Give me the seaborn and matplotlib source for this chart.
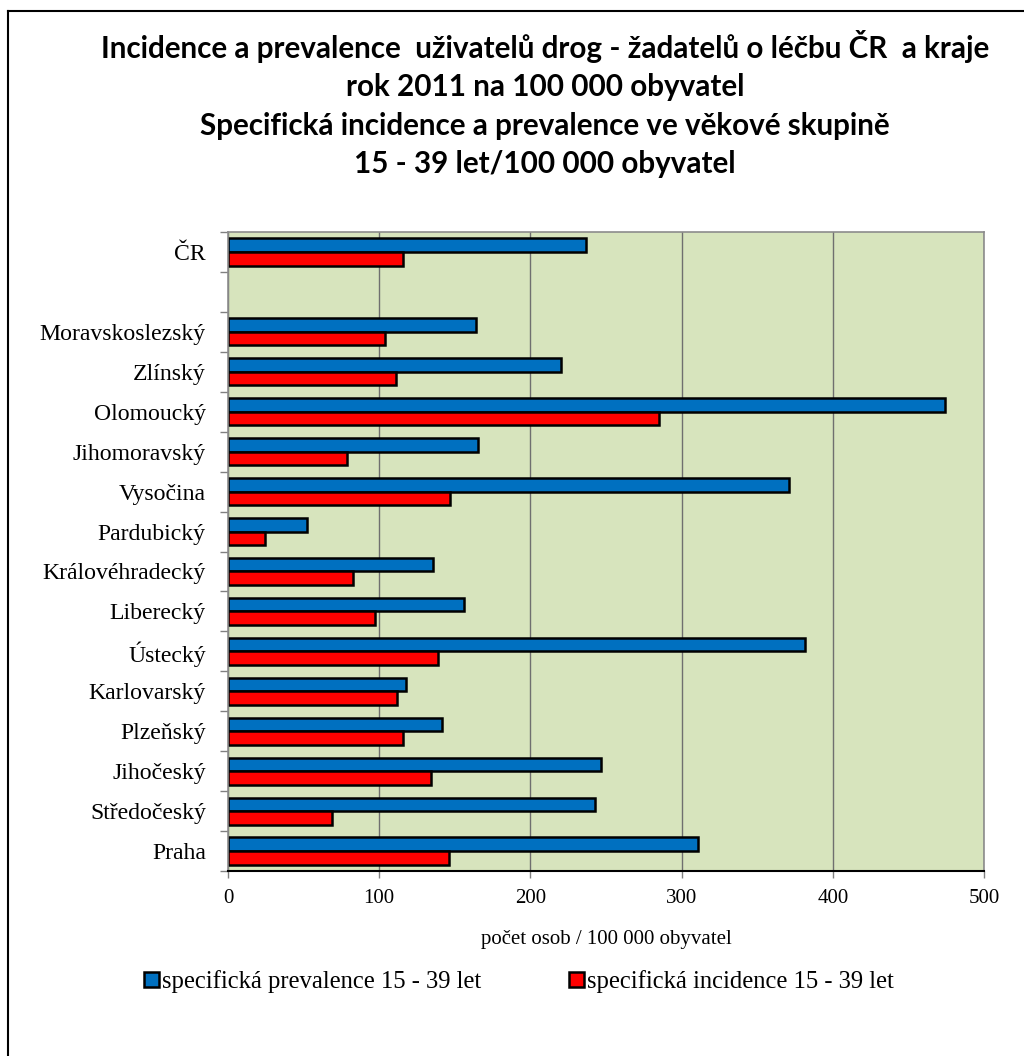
import numpy as np
import pandas as pd
import matplotlib
matplotlib.use("Agg")
import matplotlib.pyplot as plt
import matplotlib.patches as mpatches
import matplotlib.lines as mlines
import seaborn as sns

# ---- data (top-to-bottom order) ----
regions = ["ČR", " ", "Moravskoslezský", "Zlínský", "Olomoucký", "Jihomoravský",
           "Vysočina", "Pardubický", "Královéhradecký", "Liberecký", "Ústecký",
           "Karlovarský", "Plzeňský", "Jihočeský", "Středočeský", "Praha"]
prevalence = [236.5, np.nan, 164, 220.5, 474.5, 165.5, 371, 52, 135.5, 156,
              381.5, 117.5, 141.5, 246.5, 242.5, 311]
incidence = [116, np.nan, 104, 111, 285, 79, 147, 24.5, 82.5, 97.5,
             139, 112, 115.5, 134, 68.5, 146]
series_names = ["specifická prevalence 15 - 39 let", "specifická incidence 15 - 39 let"]
x_ticks = [0, 100, 200, 300, 400, 500]

title_text = ("Incidence a prevalence  uživatelů drog - žadatelů o léčbu ČR  a kraje\n"
              "rok 2011 na 100 000 obyvatel\n"
              "Specifická incidence a prevalence ve věkové skupině\n"
              "15 - 39 let/100 000 obyvatel")
xlabel_text = "počet osob / 100 000 obyvatel"

df = pd.DataFrame({
    "region": regions * 2,
    "series": [series_names[0]] * len(regions) + [series_names[1]] * len(regions),
    "value": prevalence + incidence,
})

BLUE = "#0070C0"
RED = "#FF0000"
BG = "#D7E4BD"
serif = "Liberation Serif"

W, H = 1024, 1056
fig = plt.figure(figsize=(W / 100, H / 100), dpi=100)
fig.patch.set_facecolor("white")

ax = fig.add_axes([228 / W, 1 - 871 / H, 756 / W, 639 / H])
ax.set_facecolor(BG)

sns.barplot(data=df, y="region", x="value", hue="series", order=regions,
            hue_order=series_names, palette=[BLUE, RED], width=0.68,
            edgecolor="black", linewidth=1.8, ax=ax, legend=False,
            saturation=1, errorbar=None)

ax.set_xlim(0, 500)
ax.set_ylim(len(regions) - 0.5, -0.5)
ax.set_xticks(x_ticks)
ax.set_xticklabels([str(t) for t in x_ticks], fontfamily=serif, fontsize=15)
ax.set_yticks(range(len(regions)))
ax.set_yticklabels(regions, fontfamily=serif, fontsize=17.1)
ax.tick_params(axis="y", which="major", length=0, pad=16)
ax.set_yticks(np.arange(-0.5, len(regions), 1.0), minor=True)
ax.tick_params(axis="y", which="minor", length=6, color="#808080", width=1)
ax.tick_params(axis="x", which="major", length=5, color="#808080", width=1, pad=8)

ax.set_axisbelow(True)
ax.xaxis.grid(True, color="#6f6f6f", linewidth=1)
ax.yaxis.grid(False)

ax.set_ylabel("")
ax.set_xlabel(xlabel_text, fontfamily=serif, fontsize=15, labelpad=16)

for side in ["top", "right", "left"]:
    ax.spines[side].set_color("#8c8c8c")
    ax.spines[side].set_linewidth(1.2)
ax.spines["bottom"].set_color("black")
ax.spines["bottom"].set_linewidth(1.5)

# legend
handles = [mpatches.Patch(facecolor=BLUE, edgecolor="black", linewidth=1.8),
           mpatches.Patch(facecolor=RED, edgecolor="black", linewidth=1.8)]
fig.legend(handles, series_names, loc="center", bbox_to_anchor=(519 / W, 1 - 982 / H),
           ncol=2, frameon=False, prop={"family": serif, "size": 17.7},
           handlelength=0.6, handleheight=0.55, handletextpad=0.12,
           columnspacing=3.6)

# title
fig.text(545 / W, 1 - 104 / H, title_text, ha="center", va="center",
         fontsize=21.3, fontweight="bold", fontfamily="Lato", linespacing=1.44)

# outer frame (left & top)
fig.add_artist(mlines.Line2D([8 / W, 8 / W], [0, 1 - 11 / H], transform=fig.transFigure,
                             color="black", linewidth=1.5))
fig.add_artist(mlines.Line2D([8 / W, 1], [1 - 11 / H, 1 - 11 / H], transform=fig.transFigure,
                             color="black", linewidth=1.5))

fig.savefig("out.png", dpi=100)
